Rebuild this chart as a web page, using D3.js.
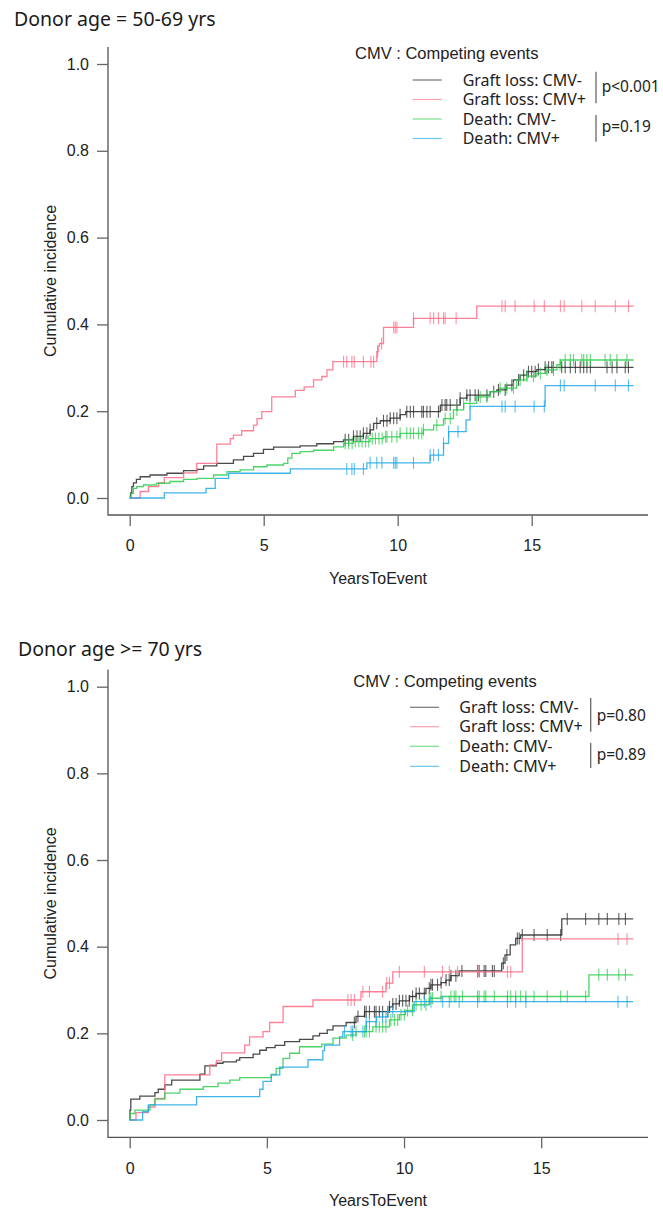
<!DOCTYPE html>
<html>
<head>
<meta charset="utf-8">
<script src="https://cdn.jsdelivr.net/npm/d3@7"></script>
<style>
  body { margin: 0; background: #fff; }
  svg { display: block; }
  .axis text { font-family: "Liberation Sans", Arial, sans-serif; font-size: 16px; fill: #222; }
  .axis line { stroke: #666; }
</style>
</head>
<body>
<svg id="chart" width="663" height="1211"></svg>
<script>
// ---- data: step points [years, cumulative incidence] ----
const seriesNames = ['Graft loss: CMV-', 'Graft loss: CMV+', 'Death: CMV-', 'Death: CMV+'];
const seriesColors = ['#2a2a2a', '#ff6b86', '#2ccc4c', '#1ea8e6'];
const yTicks = [0, 0.2, 0.4, 0.6, 0.8, 1.0];
const xTicks = [0, 5, 10, 15];

// Donor age = 50-69 yrs
const a_graftNeg = [[0,0],[0.03,0.012],[0.08,0.026],[0.14,0.035],[0.25,0.043],[0.39,0.049],[0.76,0.053],[1.39,0.057],[2.01,0.063],[2.51,0.066],[2.76,0.074],[3.25,0.080],[3.87,0.088],[4.25,0.096],[4.62,0.103],[4.99,0.112],[5.37,0.117],[6.36,0.120],[6.98,0.125],[7.61,0.130],[7.98,0.134],[8.35,0.142],[8.72,0.149],[8.97,0.157],[9.1,0.172],[9.35,0.178],[9.72,0.184],[10.09,0.192],[10.3,0.199],[11.59,0.214],[12.33,0.230],[12.58,0.237],[13.45,0.245],[13.7,0.249],[14.07,0.260],[14.32,0.272],[14.57,0.283],[14.82,0.291],[15.19,0.296],[15.5,0.301]];
const a_graftPos = [[0,0],[0.39,0.015],[0.70,0.026],[1.08,0.035],[1.29,0.047],[2.01,0.058],[2.5,0.080],[3.25,0.124],[3.75,0.137],[3.87,0.145],[4.18,0.155],[4.62,0.168],[4.75,0.183],[4.93,0.199],[5.3,0.233],[6.18,0.248],[6.51,0.256],[6.86,0.272],[7.17,0.280],[7.36,0.295],[7.58,0.314],[9.22,0.337],[9.27,0.350],[9.32,0.356],[9.47,0.393],[10.59,0.414],[12.95,0.442]];
const a_deathNeg = [[0,0],[0.05,0.010],[0.14,0.022],[0.26,0.026],[0.51,0.030],[1.01,0.034],[1.5,0.038],[2.01,0.043],[2.51,0.045],[3.13,0.053],[3.63,0.061],[4.12,0.065],[4.62,0.072],[5.12,0.076],[5.74,0.080],[5.9,0.092],[6.05,0.103],[6.36,0.107],[6.86,0.110],[7.61,0.118],[7.98,0.126],[8.35,0.130],[8.97,0.137],[9.47,0.141],[10.09,0.149],[10.96,0.157],[11.34,0.168],[11.71,0.183],[12.08,0.203],[12.46,0.218],[12.95,0.233],[13.45,0.245],[13.82,0.253],[14.44,0.272],[14.82,0.281],[15.19,0.287],[15.57,0.295],[15.94,0.307],[16.07,0.318]];
const a_deathPos = [[0,0],[1.29,0.012],[2.85,0.022],[3.19,0.045],[3.69,0.057],[5.99,0.067],[8.85,0.081],[11.21,0.099],[11.71,0.126],[11.9,0.153],[12.55,0.180],[12.7,0.211],[15.5,0.259]];
const a_censGraftNeg = [8.04,8.17,8.35,8.48,8.6,8.72,8.85,8.97,9.22,9.47,9.6,9.72,9.85,9.97,10.09,10.34,10.47,10.59,10.9,10.96,11.09,11.21,11.52,11.65,11.77,11.83,11.96,12.21,12.33,12.58,12.7,12.89,13.01,13.33,13.58,13.76,14.01,14.26,14.51,14.7,14.88,15.0,15.13,15.25,15.5,15.63,15.75,15.81,16.12,16.25,16.44,16.63,16.81,16.94,17.06,17.19,17.81,18.0,18.18,18.49,18.61];
const a_censGraftPos = [7.98,8.1,8.29,8.38,8.72,9.0,9.1,9.25,9.4,9.85,9.91,9.97,10.59,11.21,11.34,11.52,11.71,11.77,12.18,13.89,14.01,14.38,15.09,15.47,16.07,16.21,16.87,17.37,18.12,18.61];
const a_censDeathNeg = [8.04,8.17,8.3,8.42,8.55,8.67,8.8,8.92,9.05,9.17,9.3,9.42,9.55,9.6,9.78,9.97,10.09,10.34,10.47,10.59,10.78,10.9,10.96,11.46,11.77,11.96,12.21,12.46,12.7,13.08,13.33,13.58,13.82,14.07,14.32,14.57,14.82,15.07,15.32,15.57,15.81,16.06,16.25,16.44,16.56,16.87,16.94,17.06,17.19,17.74,17.93,18.18,18.55];
const a_censDeathPos = [8.1,8.29,8.38,8.72,8.97,9.22,9.41,9.85,9.91,9.97,10.59,11.21,11.34,11.52,11.71,11.9,12.25,13.89,14.01,14.38,15.09,15.47,16.07,16.21,17.37,18.12,18.61];
const a_pValues = ['p<0.001', 'p=0.19'];

// Donor age >= 70 yrs
const b_graftNeg = [[0,0],[0.01,0.023],[0.04,0.048],[0.37,0.055],[0.92,0.063],[1.04,0.071],[1.28,0.081],[1.53,0.092],[2.56,0.106],[2.74,0.125],[3.16,0.131],[3.4,0.134],[3.89,0.138],[4.01,0.144],[4.5,0.152],[4.74,0.161],[4.98,0.167],[5.3,0.172],[5.65,0.181],[6.19,0.186],[6.68,0.194],[6.92,0.200],[7.2,0.208],[7.41,0.217],[7.89,0.225],[8.25,0.239],[8.56,0.250],[9.47,0.261],[9.59,0.268],[9.83,0.275],[10.2,0.285],[10.44,0.292],[10.8,0.304],[10.98,0.312],[11.35,0.317],[11.53,0.323],[11.71,0.333],[12.01,0.344],[13.56,0.362],[13.68,0.381],[13.87,0.404],[14.07,0.419],[14.25,0.427],[15.75,0.464]];
const b_graftPos = [[0,0],[0.23,0.017],[0.68,0.030],[0.92,0.050],[1.28,0.104],[2.92,0.127],[3.16,0.137],[3.35,0.155],[4.19,0.173],[4.37,0.192],[4.86,0.204],[5.1,0.225],[5.59,0.262],[6.68,0.277],[8.43,0.296],[9.34,0.316],[9.59,0.342],[14.31,0.418]];
const b_deathNeg = [[0,0],[0.01,0.015],[0.19,0.023],[0.74,0.035],[0.92,0.048],[1.28,0.062],[1.83,0.071],[2.68,0.077],[3.22,0.085],[3.65,0.092],[4.01,0.098],[5.16,0.105],[5.34,0.119],[5.59,0.142],[5.83,0.154],[6.19,0.169],[7.0,0.175],[7.41,0.189],[7.89,0.196],[8.25,0.204],[8.86,0.215],[9.47,0.231],[9.83,0.243],[10.05,0.253],[10.32,0.266],[10.92,0.281],[11.35,0.285],[16.74,0.335]];
const b_deathPos = [[0,0],[0.47,0.019],[0.68,0.035],[2.44,0.054],[4.74,0.071],[4.86,0.089],[5.16,0.104],[5.47,0.122],[6.5,0.139],[7.04,0.160],[7.1,0.173],[7.65,0.192],[7.77,0.204],[8.62,0.227],[9.0,0.238],[9.4,0.250],[10.37,0.273]];
const b_censGraftNeg = [8.19,8.32,8.56,8.62,8.74,8.92,8.98,9.1,9.22,9.41,9.47,9.59,9.71,9.83,9.95,10.07,10.19,10.31,10.44,10.56,10.74,10.92,10.98,11.04,11.22,11.35,11.53,11.65,11.71,11.89,12.11,12.68,12.74,12.92,12.98,13.22,13.29,13.62,13.75,14.13,14.2,14.31,14.74,15.22,15.71,15.95,16.62,17.1,17.41,17.83,18.07];
const b_censGraftPos = [7.95,8.07,8.19,8.5,8.74,9.22,9.37,9.47,9.83,10.74,11.4,11.65,11.95,12.68,12.74,13.77,13.89,17.8,18.13];
const b_censDeathNeg = [8.13,8.25,8.56,8.62,8.74,8.98,9.1,9.22,9.34,9.52,9.65,9.77,9.89,10.01,10.13,10.31,10.44,10.62,10.8,10.92,10.98,11.04,11.35,11.71,11.83,11.89,12.13,12.68,12.74,12.92,12.98,13.29,13.77,13.89,14.07,14.25,14.44,14.74,15.22,15.71,15.95,16.62,17.1,17.41,17.83,18.07];
const b_censDeathPos = [7.83,8.07,8.13,8.5,8.62,8.74,8.98,9.22,9.34,9.59,10.74,10.98,11.41,11.65,12.01,12.68,13.77,14.07,14.44,17.8,18.13];
const b_pValues = ['p=0.80', 'p=0.89'];

const svg = d3.select('#chart');

const panels = [
  {
    title: 'Donor age = 50-69 yrs', titleX: 14, titleY: 26,
    curves: [a_graftNeg, a_graftPos, a_deathNeg, a_deathPos],
    censors: [a_censGraftNeg, a_censGraftPos, a_censDeathNeg, a_censDeathPos],
    pValues: a_pValues, endT: 18.8,
    x: d3.scaleLinear().domain([0, 15]).range([129.7, 531.7]),
    y: d3.scaleLinear().domain([0, 1]).range([498, 64]),
    box: { left: 108, right: 648, top: 47, bottom: 515 },
    leg: { titleX: 355, titleY: 58.5, lineX: 412.7, textX: 462.7, barX: 596, pX: 601.7,
           rows: [80, 99.5, 119, 138.5], bars: [[71.7, 103.3], [115, 141.7]], pY: [86.7, 126] }
  },
  {
    title: 'Donor age >= 70 yrs', titleX: 18, titleY: 656,
    curves: [b_graftNeg, b_graftPos, b_deathNeg, b_deathPos],
    censors: [b_censGraftNeg, b_censGraftPos, b_censDeathNeg, b_censDeathPos],
    pValues: b_pValues, endT: 18.35,
    x: d3.scaleLinear().domain([0, 15]).range([129.7, 541.2]),
    y: d3.scaleLinear().domain([0, 1]).range([1120, 686.7]),
    box: { left: 108, right: 648, top: 669.5, bottom: 1137.3 },
    leg: { titleX: 353.3, titleY: 686.5, lineX: 410, textX: 459.3, barX: 590.7, pX: 596.7,
           rows: [707.3, 726.7, 746.3, 766.3], bars: [[698, 731.7], [743, 768]], pY: [715, 754] }
  }
];

const bisect = d3.bisector(d => d[0]).right;

function valueAt(data, t) {
  const i = bisect(data, t) - 1;
  return data[Math.max(0, i)][1];
}

function drawPanel(p) {
  const g = svg.append('g');
  const x = p.x, y = p.y, b = p.box;

  // title
  g.append('text')
    .attr('x', p.titleX).attr('y', p.titleY)
    .attr('font-family', '"Noto Sans", sans-serif')
    .attr('font-size', 19.5).attr('fill', '#1a1a1a')
    .text(p.title);

  // L-shaped box
  g.append('path')
    .attr('d', `M${b.left},${b.top}V${b.bottom}H${b.right}`)
    .attr('fill', 'none').attr('stroke', '#555').attr('stroke-width', 1.3);

  // axes
  const yAxis = g.append('g').attr('class', 'axis')
    .attr('transform', `translate(${b.left},0)`)
    .call(d3.axisLeft(y).tickValues(yTicks).tickFormat(d3.format('.1f')).tickSize(11).tickPadding(8));
  yAxis.select('.domain').remove();
  yAxis.selectAll('line').attr('stroke', '#666').attr('stroke-width', 1.3);

  const xAxis = g.append('g').attr('class', 'axis')
    .attr('transform', `translate(0,${b.bottom})`)
    .call(d3.axisBottom(x).tickValues(xTicks).tickSize(11).tickPadding(14));
  xAxis.select('.domain').remove();
  xAxis.selectAll('line').attr('stroke', '#666').attr('stroke-width', 1.3);

  g.append('text')
    .attr('x', (b.left + b.right) / 2).attr('y', b.bottom + 69)
    .attr('text-anchor', 'middle')
    .attr('font-family', '"Liberation Sans", Arial, sans-serif')
    .attr('font-size', 16).attr('fill', '#222')
    .text('YearsToEvent');

  g.append('text')
    .attr('transform', `translate(55.5,${(b.top + b.bottom) / 2}) rotate(-90)`)
    .attr('text-anchor', 'middle')
    .attr('font-family', '"Liberation Sans", Arial, sans-serif')
    .attr('font-size', 16).attr('fill', '#222')
    .text('Cumulative incidence');

  // curves (step functions)
  const line = d3.line()
    .x(d => x(d[0]))
    .y(d => y(d[1]))
    .curve(d3.curveStepAfter);

  p.curves.forEach((data, i) => {
    const pts = data.concat([[p.endT, data[data.length - 1][1]]]);
    g.append('path')
      .datum(pts)
      .attr('d', line)
      .attr('fill', 'none')
      .attr('stroke', seriesColors[i])
      .attr('stroke-width', 1.3)
      .attr('stroke-opacity', 0.85);

    // censoring marks
    g.append('g')
      .selectAll('line')
      .data(p.censors[i])
      .join('line')
      .attr('x1', t => x(t)).attr('x2', t => x(t))
      .attr('y1', t => y(valueAt(data, t)) - 6)
      .attr('y2', t => y(valueAt(data, t)) + 6)
      .attr('stroke', seriesColors[i])
      .attr('stroke-width', 1.1)
      .attr('stroke-opacity', 0.75);
  });

  // legend
  const L = p.leg;
  g.append('text')
    .attr('x', L.titleX).attr('y', L.titleY)
    .attr('font-family', '"Liberation Sans", Arial, sans-serif')
    .attr('font-size', 16.5).attr('fill', '#222')
    .text('CMV : Competing events');

  seriesNames.forEach((name, i) => {
    g.append('line')
      .attr('x1', L.lineX).attr('x2', L.lineX + 29)
      .attr('y1', L.rows[i]).attr('y2', L.rows[i])
      .attr('stroke', seriesColors[i]).attr('stroke-width', 1.2).attr('stroke-opacity', 0.65);
    g.append('text')
      .attr('x', L.textX).attr('y', L.rows[i])
      .attr('dy', '0.36em')
      .attr('font-family', '"Noto Sans", sans-serif')
      .attr('font-size', 16).attr('fill', '#222')
      .text(name);
  });

  L.bars.forEach((bar, i) => {
    g.append('line')
      .attr('x1', L.barX).attr('x2', L.barX)
      .attr('y1', bar[0]).attr('y2', bar[1])
      .attr('stroke', '#666').attr('stroke-width', 1.3);
    g.append('text')
      .attr('x', L.pX).attr('y', L.pY[i])
      .attr('dy', '0.36em')
      .attr('font-family', '"Noto Sans", sans-serif')
      .attr('font-size', 15.5).attr('fill', '#222')
      .text(p.pValues[i]);
  });
}

panels.forEach(drawPanel);
</script>
</body>
</html>
